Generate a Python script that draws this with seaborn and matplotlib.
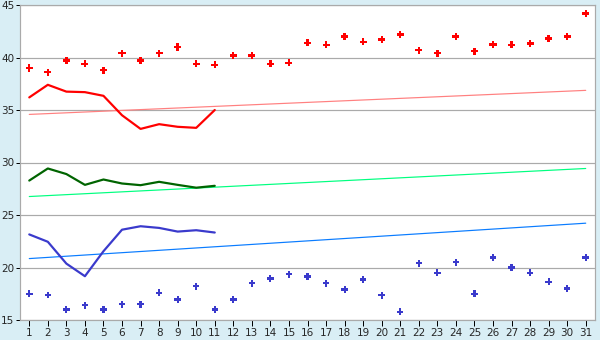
import matplotlib
matplotlib.use("Agg")
import matplotlib.pyplot as plt
import seaborn as sns
import pandas as pd

days = list(range(1, 32))
max_temps = [39.0, 38.6, 39.7, 39.4, 38.8, 40.4, 39.7, 40.4, 41.0, 39.4,
             39.3, 40.2, 40.2, 39.4, 39.5, 41.4, 41.2, 42.0, 41.5, 41.7,
             42.2, 40.7, 40.4, 42.0, 40.6, 41.25, 41.2, 41.35, 41.8, 42.0, 44.2]
min_temps = [17.5, 17.4, 16.0, 16.4, 16.0, 16.5, 16.5, 17.6, 16.95, 18.2,
             16.0, 16.95, 18.5, 18.95, 19.35, 19.15, 18.5, 17.9, 18.85, 17.35,
             15.8, 20.4, 19.5, 20.5, 17.5, 20.95, 20.0, 19.5, 18.65, 18.0, 20.95]

line_days = list(range(1, 12))
red_line = [36.2, 37.4, 36.75, 36.7, 36.35, 34.5, 33.2, 33.65, 33.4, 33.3, 35.0]
green_line = [28.28, 29.43, 28.9, 27.87, 28.38, 28.0, 27.84, 28.16, 27.87, 27.6, 27.78]
blue_line = [23.15, 22.45, 20.37, 19.17, 21.55, 23.6, 23.93, 23.77, 23.42, 23.55, 23.33]

trend_days = [1, 31]
red_trend = [34.58, 36.87]
green_trend = [26.76, 29.43]
blue_trend = [20.85, 24.22]

y_ticks = [15, 20, 25, 30, 35, 40, 45]

sns.set_theme(style="white")
plt.rcParams['font.family'] = ['DejaVu Sans']

PX = 0.72

fig = plt.figure(figsize=(6, 3.4), dpi=100)
fig.patch.set_facecolor("#d9eef5")
ax = fig.add_axes([20/600, 20/340, 575/600, 315/340])
ax.set_facecolor("white")

for yv in y_ticks:
    ax.axhline(yv, color="#aaaaaa", lw=1.2*PX, zorder=0)

df_trend = pd.DataFrame({"day": trend_days, "red": red_trend, "green": green_trend, "blue": blue_trend})
sns.lineplot(data=df_trend, x="day", y="red", color="#ff8080", lw=1.2*PX, ax=ax)
sns.lineplot(data=df_trend, x="day", y="green", color="#00ff80", lw=1.2*PX, ax=ax)
sns.lineplot(data=df_trend, x="day", y="blue", color="#0a7cff", lw=1.2*PX, ax=ax)

df_lines = pd.DataFrame({"day": line_days, "red": red_line, "green": green_line, "blue": blue_line})
sns.lineplot(data=df_lines, x="day", y="red", color="#ff0000", lw=2.2*PX, ax=ax)
sns.lineplot(data=df_lines, x="day", y="green", color="#006400", lw=2.2*PX, ax=ax)
sns.lineplot(data=df_lines, x="day", y="blue", color="#3a3acc", lw=2.2*PX, ax=ax)

df_pts = pd.DataFrame({"day": days, "max": max_temps, "min": min_temps})
sns.scatterplot(data=df_pts, x="day", y="max", color="#ff0000", marker="P", s=26,
                edgecolor="none", linewidth=0, ax=ax, zorder=5)
sns.scatterplot(data=df_pts, x="day", y="min", color="#3a3acc", marker="P", s=22,
                edgecolor="none", linewidth=0, ax=ax, zorder=5)

ax.set_xlim(0.5, 31.5)
ax.set_ylim(15, 45)
ax.set_xticks(days)
ax.set_xticklabels([str(d) for d in days])
ax.set_yticks(y_ticks)
ax.set_yticklabels([str(v) for v in y_ticks])
ax.set_xlabel("")
ax.set_ylabel("")
for s in ax.spines.values():
    s.set_color("#aaaaaa")
    s.set_linewidth(1.2*PX)
ax.tick_params(axis="x", length=4, width=PX, color="black", labelsize=7.5, pad=2, bottom=True)
ax.tick_params(axis="y", length=3, width=PX, color="black", labelsize=7.5, pad=1, left=True)

fig.savefig("out.png", dpi=100, facecolor=fig.get_facecolor())
